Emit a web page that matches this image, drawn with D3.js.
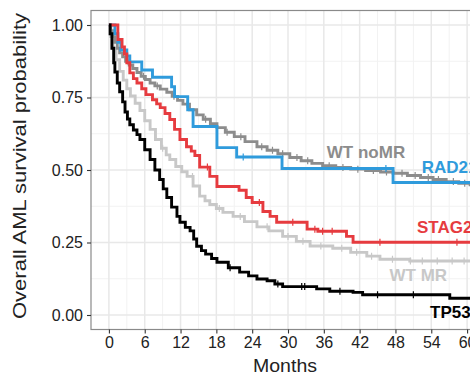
<!DOCTYPE html>
<html>
<head>
<meta charset="utf-8">
<script src="https://cdn.jsdelivr.net/npm/d3@7"></script>
<style>
  body { margin: 0; background: #fff; }
  text { font-family: "Liberation Sans", Arial, sans-serif; }
</style>
</head>
<body>
<div id="chart"></div>
<script>
// Kaplan-Meier curves: [month, survival]
const wtNoMR = [[0,1],[0.3,0.98],[0.6,0.96],[1,0.94],[1.4,0.92],[1.8,0.904],[2.3,0.89],[2.8,0.875],[3.4,0.862],[4,0.85],[4.7,0.836],[5.4,0.823],[6.1,0.812],[6.9,0.8],[7.7,0.79],[8.6,0.779],[9.7,0.768],[10.6,0.754],[11.5,0.74],[12.4,0.727],[13.5,0.708],[14.7,0.69],[15.8,0.675],[17,0.66],[18.1,0.646],[19.5,0.63],[21,0.615],[22.8,0.598],[24.8,0.58],[26.5,0.568],[28.3,0.556],[30.3,0.543],[32.2,0.532],[34,0.523],[35.8,0.515],[38,0.509],[40.5,0.503],[43,0.498],[45.5,0.493],[47.6,0.489],[50,0.481],[52.2,0.474],[54.3,0.467],[56.5,0.46],[58.6,0.454],[60.5,0.449],[63,0.445]];
const wtMR = [[0,1],[0.3,0.96],[0.7,0.92],[1.2,0.88],[1.8,0.84],[2.4,0.81],[3,0.78],[3.6,0.755],[4.4,0.73],[5.2,0.705],[6,0.67],[6.9,0.64],[7.8,0.605],[8.8,0.575],[9.6,0.552],[10.2,0.536],[11.2,0.512],[12.2,0.494],[13.1,0.478],[14.1,0.445],[15.2,0.41],[16.1,0.394],[16.9,0.381],[18,0.367],[19.1,0.354],[20.8,0.34],[22.7,0.322],[24.8,0.304],[26.8,0.29],[29.1,0.271],[31.4,0.254],[33.7,0.238],[37.5,0.23],[40.5,0.216],[43.2,0.203],[45.4,0.192],[50.4,0.186],[63,0.186]];
const tp53 = [[0,1],[0.2,0.97],[0.5,0.92],[0.8,0.87],[1,0.838],[1.4,0.8],[1.8,0.77],[2.3,0.735],[2.7,0.7],[3.1,0.676],[3.5,0.656],[4.1,0.638],[4.7,0.622],[5.2,0.605],[6,0.57],[6.9,0.536],[7.7,0.5],[8.5,0.467],[9.1,0.435],[9.7,0.405],[10.5,0.372],[11.4,0.34],[11.9,0.32],[12.8,0.302],[13.6,0.29],[14.2,0.262],[14.7,0.237],[15.5,0.222],[16.2,0.21],[17.2,0.195],[18.1,0.182],[20,0.163],[21.9,0.148],[23.4,0.135],[24.8,0.124],[26.5,0.118],[27.8,0.107],[29.1,0.098],[34.8,0.09],[37,0.082],[40.9,0.078],[42.5,0.07],[57.1,0.058],[63,0.058]];
const stag2 = [[0,1],[1.5,0.95],[2.2,0.924],[2.6,0.9],[3,0.87],[3.5,0.835],[4.1,0.815],[4.7,0.8],[5.5,0.78],[6.2,0.76],[7.3,0.742],[8,0.728],[8.6,0.715],[9.4,0.695],[10.2,0.674],[11,0.64],[11.9,0.605],[13,0.58],[13.8,0.565],[14.4,0.55],[15.2,0.51],[16.9,0.478],[18.1,0.443],[21.8,0.43],[23,0.405],[24,0.388],[25.8,0.357],[27,0.34],[28.1,0.32],[33.2,0.296],[35,0.289],[39.8,0.271],[40.9,0.251],[63,0.251]];
const rad21 = [[0,1],[1,0.97],[1.5,0.94],[2,0.914],[3,0.893],[3.5,0.873],[5.5,0.845],[7.3,0.82],[10.5,0.787],[11,0.753],[13.2,0.708],[14.1,0.65],[18.1,0.577],[21.4,0.545],[29,0.505],[47.6,0.457],[63,0.457]];

// censoring times (months)
const censorNoMR = [3.2,5.8,8.1,10.9,13.1,16.2,19.8,22.1,25.6,27.4,29.1,31.5,33.3,36.9,39.2,41.7,44.3,46.5,49.1,51.3,53.5,55.2,57.7,59.6];
const censorMR = [9,14,18.5,22,26.5,30,32.5,35.5,39,41.5,44,47.5,50.5,52.5,55,57.5,59.5];
const censorTP53 = [20.3,28.3,32.3,32.8,38.7,45,51];
const censorSTAG2 = [16.5,25.2,30.8,34.5,35.8,37.4,45.4,58.3];
const censorRAD21 = [22.5,46.4];

const groupNames = ["WT MR", "WT noMR", "RAD21", "STAG2", "TP53"];
const groupColors = ["#c8c8c8", "#8c8c8c", "#2f9bdc", "#e63b3f", "#000000"];
const groupCurves = [wtMR, wtNoMR, rad21, stag2, tp53];
const groupCensors = [censorMR, censorNoMR, censorRAD21, censorSTAG2, censorTP53];
// label anchor in data units [month, survival]
const labelPos = [[47, 0.117], [36.5, 0.543], [52.4, 0.488], [51.6, 0.282], [53.8, -0.01]];

const xTicks = [0, 6, 12, 18, 24, 30, 36, 42, 48, 54, 60];
const yTicks = [0, 0.25, 0.5, 0.75, 1];

const width = 470, height = 376;
const svg = d3.select("#chart").append("svg")
  .attr("width", width).attr("height", height);

const x = d3.scaleLinear().domain([-3, 63]).range([91, 485]);
const y = d3.scaleLinear().domain([-0.05, 1.05]).range([329.5, 10.5]);

// grid
const minorX = d3.range(-3, 64, 6).filter(v => v > -3 && v < 63);
const minorY = [0.125, 0.375, 0.625, 0.875];
const grid = svg.append("g");
grid.selectAll(".mx").data(minorX).join("line")
  .attr("x1", d => x(d)).attr("x2", d => x(d))
  .attr("y1", y.range()[0]).attr("y2", y.range()[1])
  .attr("stroke", "#f2f2f2").attr("stroke-width", 1);
grid.selectAll(".my").data(minorY).join("line")
  .attr("x1", x.range()[0]).attr("x2", x.range()[1])
  .attr("y1", d => y(d)).attr("y2", d => y(d))
  .attr("stroke", "#f2f2f2").attr("stroke-width", 1);
grid.selectAll(".gx").data(xTicks).join("line")
  .attr("x1", d => x(d)).attr("x2", d => x(d))
  .attr("y1", y.range()[0]).attr("y2", y.range()[1])
  .attr("stroke", "#e8e8e8").attr("stroke-width", 1.5);
grid.selectAll(".gy").data(yTicks).join("line")
  .attr("x1", x.range()[0]).attr("x2", x.range()[1])
  .attr("y1", d => y(d)).attr("y2", d => y(d))
  .attr("stroke", "#e8e8e8").attr("stroke-width", 1.5);

// clip curves to panel
svg.append("clipPath").attr("id", "panel")
  .append("rect")
  .attr("x", x.range()[0]).attr("y", y.range()[1])
  .attr("width", x.range()[1] - x.range()[0])
  .attr("height", y.range()[0] - y.range()[1]);

const line = d3.line()
  .x(d => x(d[0])).y(d => y(d[1]))
  .curve(d3.curveStepAfter);

function survAt(curve, t) {
  let s = curve[0][1];
  curve.forEach(p => { if (p[0] <= t) s = p[1]; });
  return s;
}

const plot = svg.append("g").attr("clip-path", "url(#panel)");
groupCurves.forEach((curve, i) => {
  plot.append("path")
    .datum(curve)
    .attr("fill", "none")
    .attr("stroke", groupColors[i])
    .attr("stroke-width", 2.9)
    .attr("d", line);
  plot.selectAll(null).data(groupCensors[i]).join("line")
    .attr("x1", d => x(d)).attr("x2", d => x(d))
    .attr("y1", d => y(survAt(curve, d)) - 3.5)
    .attr("y2", d => y(survAt(curve, d)) + 3.5)
    .attr("stroke", groupColors[i])
    .attr("stroke-width", 1.2);
});

// panel border
svg.append("rect")
  .attr("x", x.range()[0]).attr("y", y.range()[1])
  .attr("width", x.range()[1] - x.range()[0])
  .attr("height", y.range()[0] - y.range()[1])
  .attr("fill", "none").attr("stroke", "#8a8a8a").attr("stroke-width", 1.2);

// axes
const xAxis = svg.append("g")
  .attr("transform", `translate(0,${y.range()[0]})`)
  .call(d3.axisBottom(x).tickValues(xTicks).tickSize(4).tickPadding(3));
const yAxis = svg.append("g")
  .attr("transform", `translate(${x.range()[0]},0)`)
  .call(d3.axisLeft(y).tickValues(yTicks).tickFormat(d3.format(".2f")).tickSize(4).tickPadding(4));
[xAxis, yAxis].forEach(a => {
  a.select(".domain").remove();
  a.selectAll(".tick line").attr("stroke", "#333").attr("stroke-width", 1.1);
  a.selectAll(".tick text").attr("fill", "#222").style("font-size", "16px")
    .style("font-family", "'Liberation Sans', Arial, sans-serif");
});

// labels on curves
groupNames.forEach((name, i) => {
  svg.append("text")
    .attr("x", x(labelPos[i][0]))
    .attr("y", y(labelPos[i][1]))
    .attr("fill", groupColors[i])
    .style("font-size", "17px")
    .style("font-weight", "bold")
    .text(name);
});

// axis titles
svg.append("text")
  .attr("x", 285)
  .attr("y", 372)
  .attr("text-anchor", "middle")
  .attr("fill", "#222")
  .attr("textLength", 64)
  .attr("lengthAdjust", "spacingAndGlyphs")
  .style("font-size", "18px")
  .text("Months");

svg.append("text")
  .attr("transform", "translate(26,166) rotate(-90)")
  .attr("text-anchor", "middle")
  .attr("fill", "#222")
  .attr("textLength", 306)
  .attr("lengthAdjust", "spacingAndGlyphs")
  .style("font-size", "18px")
  .text("Overall AML survival probability");
</script>
</body>
</html>
